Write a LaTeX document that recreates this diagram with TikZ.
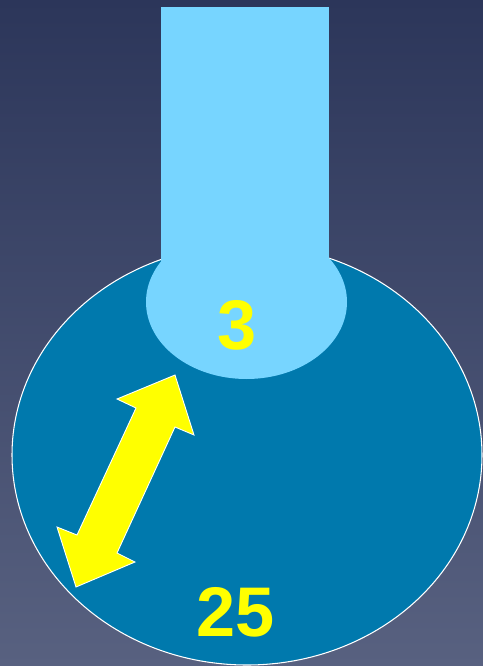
\documentclass[tikz,border=0pt]{standalone}
\usepackage{fontspec}
\setmainfont{Liberation Sans}
\usepackage{tikz}

\begin{document}
\begin{tikzpicture}[x=0.02cm, y=-0.02cm]
\definecolor{bgtop}{RGB}{44,54,90}
\definecolor{bgbot}{RGB}{88,97,128}
\definecolor{pool}{RGB}{0,121,173}
\definecolor{stream}{RGB}{119,213,255}
\definecolor{marker}{RGB}{255,255,0}
\tikzset{
  figure/.style={font=\bfseries\fontsize{40}{40}\selectfont, text=marker, inner sep=0pt}
}

% Background
\shade[top color=bgtop, bottom color=bgbot] (0,0) rectangle (483,666);
\useasboundingbox (0,0) rectangle (483,666);

% Large basin
\filldraw[fill=pool, draw=white, line width=0.6pt] (247,455) ellipse [x radius=235, y radius=210];

% Column and its foot
\fill[stream] (161,7) rectangle (329,290);
\fill[stream] (246.5,302) ellipse [x radius=100.5, y radius=77];

% Double arrow
\filldraw[fill=marker, draw=white, line width=0.5pt]
  (175,375) -- (194,435) -- (175,427) -- (117,553) -- (135,562) -- (76,587)
  -- (57,527) -- (77,535) -- (136,408) -- (117,399) -- cycle;

% Labels
\node[figure] (small) at (237,325) {3};
\node[figure] (large) at (236,612) {25};

\end{tikzpicture}
\end{document}
